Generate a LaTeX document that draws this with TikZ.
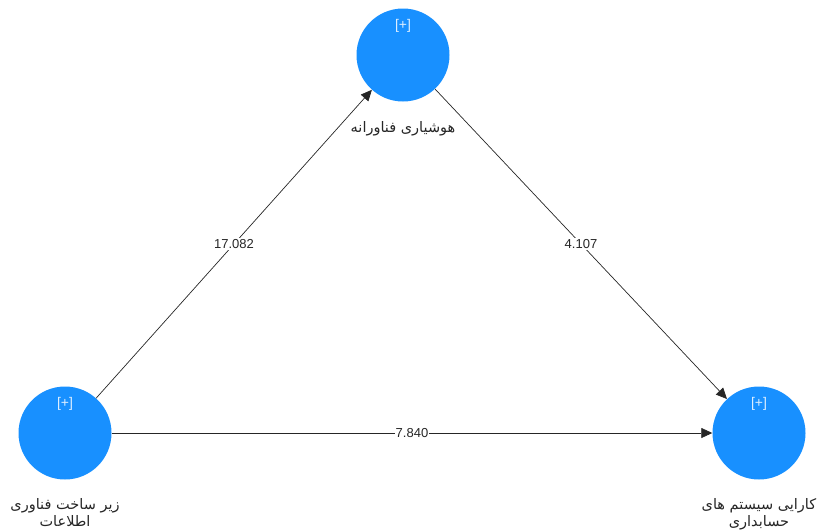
\documentclass[tikz,border=0pt]{standalone}
\usepackage{fontspec}
\setmainfont{Liberation Sans}
\newfontfamily\farsifont[Script=Arabic]{DejaVu Sans}
\TeXXeTstate=1
\usetikzlibrary{arrows.meta,positioning}
\definecolor{nodeblue}{RGB}{24,144,255}

\begin{document}
\begin{tikzpicture}[x=1pt,y=-1pt,
    construct/.style={circle, fill=nodeblue, minimum size=93pt, inner sep=0pt},
    sign/.style={text=white!85!nodeblue, font=\fontsize{14}{15}\selectfont},
    nametext/.style={font=\farsifont\fontsize{14.5}{17}\selectfont, align=center, text=black!85, inner sep=2pt},
    link/.style={draw=black!85, line width=0.7pt, -{Triangle[length=11pt,width=10pt]}},
    weight/.style={fill=white, inner sep=1pt, font=\fontsize{13}{14}\selectfont, text=black!85}]
    \useasboundingbox (0,0) rectangle (821,531);

    % Constructs
    \node[construct] (tech) at (403,55) {};
    \node[construct] (infra) at (65,433) {};
    \node[construct] (perf) at (759,433) {};

    % Expand signs
    \node[sign] at ([yshift=29pt]tech.center) {[+]};
    \node[sign] at ([yshift=29pt]infra.center) {[+]};
    \node[sign] at ([yshift=29pt]perf.center) {[+]};

    % Construct names
    \node[nametext, below=18pt of tech] (techname) {\beginR هوشیاری فناورانه\endR};
    \node[nametext, below=17pt of infra] (infraname) {\beginR زیر ساخت فناوری\endR\\\beginR اطلاعات\endR};
    \node[nametext, below=17pt of perf] (perfname) {\beginR کارایی سیستم های\endR\\\beginR حسابداری\endR};

    % Paths with path coefficients
    \draw[link] (infra) -- node[weight] {17.082} (tech);
    \draw[link] (tech) -- node[weight] {4.107} (perf);
    \draw[link] (infra) -- node[weight] {7.840} (perf);
\end{tikzpicture}
\end{document}
